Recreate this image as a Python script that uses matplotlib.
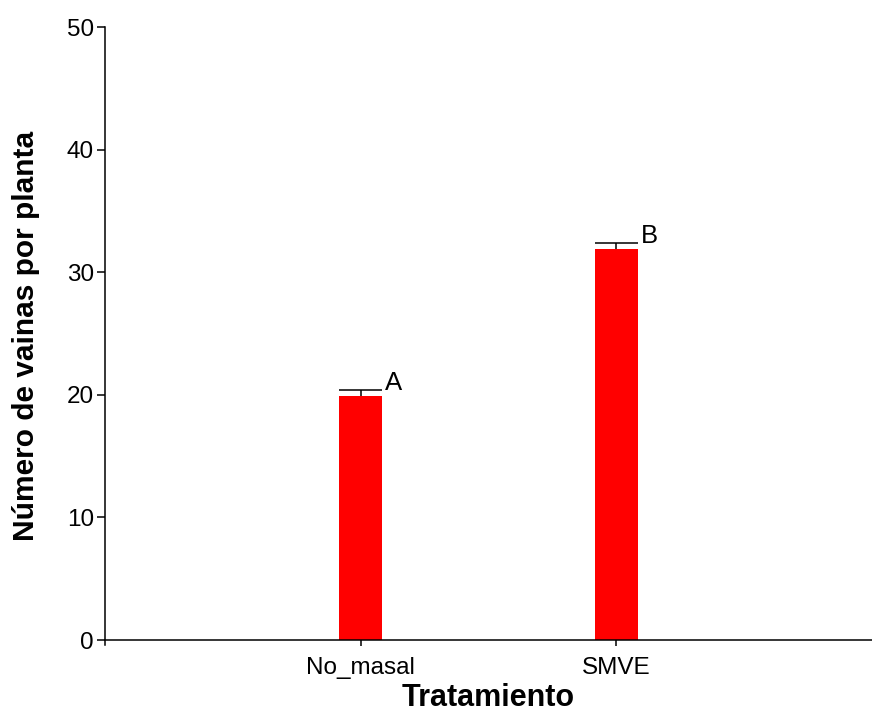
import numpy as np
import matplotlib.pyplot as plt

plt.rcParams['font.family'] = ['Liberation Sans', 'DejaVu Sans']

# Mean pods per plant by treatment, with standard error and letter groups
tratamientos = ['No_masal', 'SMVE']
medias = [19.9, 31.9]
errores = [0.5, 0.5]
letras = ['A', 'B']

fig = plt.figure(figsize=(8.72, 7.11), dpi=100)
ax = fig.add_axes([105 / 872, 1 - 645 / 711, 767 / 872, (645 - 27) / 711])

x = np.arange(1, len(tratamientos) + 1)
ancho = 0.17
ax.bar(x, medias, width=ancho, color='#ff0000', zorder=2)

# one-sided error bars: stem up from the bar top, cap as wide as the bar
tope = np.array(medias) + np.array(errores)
ax.vlines(x, medias, tope, color='black', lw=1.1, zorder=3)
ax.hlines(tope, x - ancho / 2, x + ancho / 2, color='black', lw=1.1,
          zorder=3)

for xi, t, letra in zip(x, tope, letras):
    ax.text(xi + 0.095, t + 0.55, letra, fontsize=18.5,
            ha='left', va='center')

ax.set_xlim(0, 3)
ax.set_ylim(-0.4, 50)
ax.set_yticks(np.arange(0, 51, 10))
ax.set_xticks(x)
ax.set_xticklabels(tratamientos)

ax.spines['top'].set_visible(False)
ax.spines['right'].set_visible(False)
ax.spines['bottom'].set_position(('data', 0))
for s in ('left', 'bottom'):
    ax.spines[s].set_linewidth(1.1)

ax.tick_params(axis='y', direction='out', length=6, width=1.1,
               labelsize=17.5, pad=2)
ax.tick_params(axis='x', direction='out', length=4, width=1.1,
               labelsize=17.5, pad=8)

ax.set_xlabel('Tratamiento', fontsize=22, fontweight='bold', labelpad=3)
ax.set_ylabel('Número de vainas por planta', fontsize=21.5,
              fontweight='bold', labelpad=19)

fig.savefig('out.png', dpi=100)
